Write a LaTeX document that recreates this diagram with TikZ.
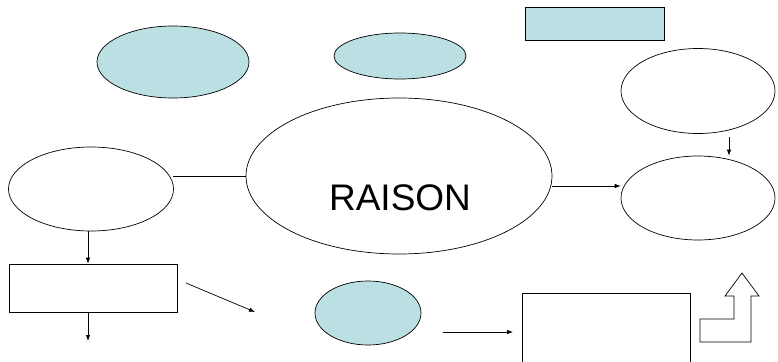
\documentclass[tikz,border=0pt]{standalone}
\usepackage{fontspec}
\setmainfont{Liberation Sans}
\usetikzlibrary{shapes.geometric,arrows.meta}
\definecolor{fillblue}{HTML}{BBE0E3}
\begin{document}
\begin{tikzpicture}[x=1pt,y=1pt, line width=0.7pt,
  ell/.style={ellipse, draw, inner sep=0pt},
  bfill/.style={fill=fillblue},
  box/.style={rectangle, draw, inner sep=0pt},
  arr/.style={-{Latex[length=6pt,width=4.5pt]}}]
\useasboundingbox (0,0) rectangle (778,-361);
% filled shapes
\node[ell,bfill,minimum width=152,minimum height=72] (b1) at (173,-62) {};
\node[ell,bfill,minimum width=132,minimum height=46] (b2) at (400,-56) {};
\node[box,bfill,minimum width=139,minimum height=33] (tb) at (594.5,-23.5) {};
\node[ell,bfill,minimum width=106,minimum height=64] (b3) at (368,-313) {};
% white shapes
\node[ell,minimum width=154,minimum height=85] (tr) at (698,-91) {};
\node[ell,minimum width=154,minimum height=84] (br) at (698,-198) {};
\node[ell,minimum width=306,minimum height=156] (ra) at (399,-176) {};
\node[font=\fontsize{37}{40}\selectfont] (rt) at (400,-198) {RAISON};
\node[ell,minimum width=165,minimum height=84] (le) at (91,-189) {};
\node[box,minimum width=168,minimum height=48] (lr) at (93,-288) {};
\node[box,minimum width=168,minimum height=80] (rr) at (606,-333) {};
% connectors
\coordinate (s1) at (729,-137);
\draw[arr] (s1) -- (s1 |- br.north);
\coordinate (s2) at (552,-186);
\draw[arr] (s2) -- (s2 -| br.west);
\coordinate (s3) at (173,-176);
\draw (s3) -- (s3 -| ra.west);
\coordinate (s4) at (88,-231);
\draw[arr] (s4) -- (s4 |- lr.north);
\coordinate (e1) at (88,-341);
\draw[arr] (s4 |- lr.south) -- (e1);
\coordinate (d1) at (186,-283);
\coordinate (d2) at (255,-312);
\draw[arr] (d1) -- (d2);
\coordinate (h1) at (443,-332);
\coordinate (h2) at (513,-332);
\draw[arr] (h1) -- (h2);
% bent up arrow
\draw (700,-319) -- (734,-319) -- (734,-296) -- (725,-296) -- (742,-273)
  -- (759,-296) -- (751,-296) -- (751,-342) -- (700,-342) -- cycle;
\end{tikzpicture}
\end{document}
